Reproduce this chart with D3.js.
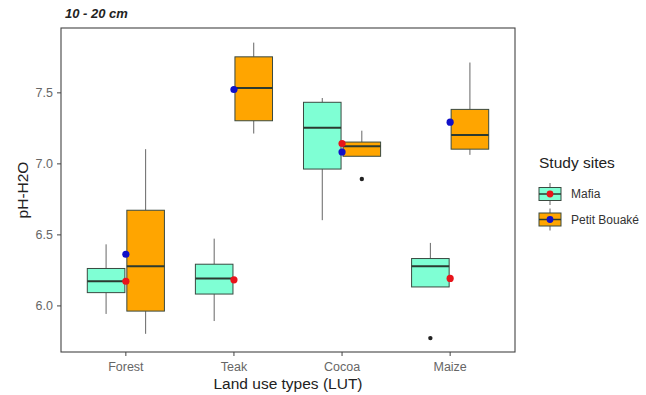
<!DOCTYPE html>
<html><head><meta charset="utf-8">
<script src="https://cdn.jsdelivr.net/npm/d3@7"></script>
<style>body{margin:0;background:#fff}svg{font-family:"Liberation Sans",Arial,sans-serif}</style>
</head><body><svg id="c" width="646" height="395"></svg>
<script>
const categories = ["Forest","Teak","Cocoa","Maize"];
const sites = ["Mafia","Petit Bouaké"];
// box stats per site: [whiskerLow, q1, median, q3, whiskerHigh]
const mafiaBoxes = [
  [5.94, 6.09, 6.17, 6.26, 6.43],
  [5.89, 6.08, 6.19, 6.29, 6.47],
  [6.60, 6.96, 7.25, 7.43, 7.46],
  [6.13, 6.13, 6.275, 6.33, 6.44]
];
const petitBoxes = [
  [5.80, 5.96, 6.275, 6.67, 7.10],
  [7.21, 7.30, 7.53, 7.75, 7.85],
  [7.05, 7.05, 7.12, 7.15, 7.23],
  [7.06, 7.10, 7.20, 7.38, 7.71]
];
const mafiaOutliers = [[], [], [], [5.77]];
const petitOutliers = [[], [], [6.89], []];
const mafiaMeans = [6.17, 6.18, 7.14, 6.19];
const petitMeans = [6.36, 7.52, 7.08, 7.29];
const yTicks = [6.0, 6.5, 7.0, 7.5];

const fills = ["#7FFFD4", "#FFA500"];
const meanColors = ["#E8141B", "#1010C8"];

const svg = d3.select("#c");
const L = 61, R = 515, T = 28, B = 352;
const x = d3.scaleBand().domain(categories).range([L, R]).paddingInner(0).paddingOuter(0.1);
const y = d3.scaleLinear().domain([5.672, 7.953]).range([B, T]);
const dodge = d3.scaleBand().domain(sites).range([0, x.bandwidth()*0.75]).padding(0.05);
const bw = dodge.bandwidth();
const cx = c => x(c) + x.bandwidth()/2;
const sx = (c, s) => x(c) + x.bandwidth()*0.125 + dodge(s);

svg.append("rect").attr("x", L).attr("y", T).attr("width", R-L).attr("height", B-T).attr("fill", "#fff");

const groups = [
  {site: sites[0], boxes: mafiaBoxes, outs: mafiaOutliers, fill: fills[0]},
  {site: sites[1], boxes: petitBoxes, outs: petitOutliers, fill: fills[1]}
];
groups.forEach(g => {
  categories.forEach((c, i) => {
    const [lo, q1, med, q3, hi] = g.boxes[i];
    const x0 = sx(c, g.site), xm = x0 + bw/2;
    const gg = svg.append("g");
    gg.append("line").attr("x1", xm).attr("x2", xm).attr("y1", y(hi)).attr("y2", y(q3)).attr("stroke", "#666").attr("stroke-width", 1);
    gg.append("line").attr("x1", xm).attr("x2", xm).attr("y1", y(q1)).attr("y2", y(lo)).attr("stroke", "#666").attr("stroke-width", 1);
    gg.append("rect").attr("x", x0).attr("y", y(q3)).attr("width", bw).attr("height", y(q1)-y(q3))
      .attr("fill", g.fill).attr("stroke", "#3a4a40").attr("stroke-width", 1);
    gg.append("line").attr("x1", x0).attr("x2", x0+bw).attr("y1", y(med)).attr("y2", y(med)).attr("stroke", "#2b3a30").attr("stroke-width", 2);
    g.outs[i].forEach(v => {
      gg.append("circle").attr("cx", xm).attr("cy", y(v)).attr("r", 2.2).attr("fill", "#222");
    });
  });
});

[mafiaMeans, petitMeans].forEach((m, k) => {
  categories.forEach((c, i) => {
    svg.append("circle").attr("cx", cx(c)).attr("cy", y(m[i])).attr("r", 3.6).attr("fill", meanColors[k]);
  });
});

svg.append("rect").attr("x", L).attr("y", T).attr("width", R-L).attr("height", B-T).attr("fill", "none").attr("stroke", "#444").attr("stroke-width", 1.1);

const yAxis = d3.axisLeft(y).tickValues(yTicks).tickFormat(d3.format(".1f")).tickSize(4).tickPadding(4);
const ya = svg.append("g").attr("transform", `translate(${L},0)`).call(yAxis);
ya.select(".domain").remove();
ya.selectAll("line").attr("stroke", "#444");
ya.selectAll("text").attr("fill", "#666").attr("font-size", 12.5).attr("font-family", "Liberation Sans, Arial, sans-serif");

const xAxis = d3.axisBottom(x).tickSize(4).tickPadding(6);
const xa = svg.append("g").attr("transform", `translate(0,${B})`).call(xAxis);
xa.select(".domain").remove();
xa.selectAll("line").attr("stroke", "#444");
xa.selectAll("text").attr("fill", "#666").attr("font-size", 12.5).attr("font-family", "Liberation Sans, Arial, sans-serif");

svg.append("text").attr("x", 65).attr("y", 18).attr("font-size", 13).attr("font-weight", "bold").attr("font-style", "italic").attr("fill", "#222").text("10 - 20 cm");
svg.append("text").attr("x", (L+R)/2).attr("y", 389).attr("text-anchor", "middle").attr("font-size", 15.5).attr("fill", "#222").text("Land use types (LUT)");
svg.append("text").attr("transform", `translate(28,${(T+B)/2}) rotate(-90)`).attr("text-anchor", "middle").attr("font-size", 15.5).attr("fill", "#222").text("pH-H2O");

const lg = svg.append("g");
lg.append("text").attr("x", 539).attr("y", 168).attr("font-size", 15.5).attr("fill", "#222").text("Study sites");
sites.forEach((s, k) => {
  const cy = 194 + k*25.5;
  const kx = 539;
  lg.append("line").attr("x1", kx+11).attr("x2", kx+11).attr("y1", cy-11).attr("y2", cy+11).attr("stroke", "#666");
  lg.append("rect").attr("x", kx).attr("y", cy-6.5).attr("width", 22).attr("height", 13).attr("fill", fills[k]).attr("stroke", "#3a4a40");
  lg.append("line").attr("x1", kx).attr("x2", kx+22).attr("y1", cy).attr("y2", cy).attr("stroke", "#2b3a30").attr("stroke-width", 1.5);
  lg.append("circle").attr("cx", kx+11).attr("cy", cy).attr("r", 3.4).attr("fill", meanColors[k]);
  lg.append("text").attr("x", 571).attr("y", cy+4.3).attr("font-size", 12).attr("fill", "#333").text(s);
});
</script></body></html>
